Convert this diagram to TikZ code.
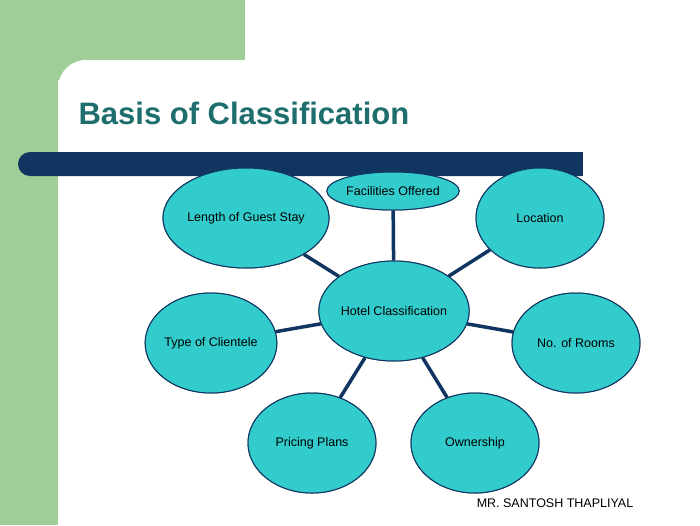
\documentclass[tikz,border=0pt]{standalone}
\usepackage{fontspec}
\setmainfont{Liberation Sans}
\usetikzlibrary{shapes.geometric}
\definecolor{grn}{HTML}{9FCF97}
\definecolor{navy}{HTML}{0F3560}
\definecolor{cyanf}{HTML}{33CCCC}
\definecolor{ttl}{HTML}{1E6E6E}
\tikzset{
  ell/.style={ellipse,draw=navy,line width=1pt,fill=cyanf,inner sep=0pt,font=\fontsize{12.5}{14}\selectfont},
  link/.style={draw=navy,line width=3.5pt}
}
\begin{document}
\begin{tikzpicture}[x=1pt,y=-1pt]
\useasboundingbox (0,0) rectangle (700,525);
\fill[white] (0,0) rectangle (700,525);
\fill[grn] (0,0) rectangle (245,80);
\fill[grn] (0,0) rectangle (58,525);
\fill[white,rounded corners=28pt] (58,60) rectangle (760,600);
\node[font=\bfseries\fontsize{31}{36}\selectfont,text=ttl,anchor=west] (title) at (75,113) {Basis of Classification};
\fill[navy,rounded corners=12pt] (18,152) rectangle (600,176);
\fill[navy] (560,152) rectangle (583,176);
\fill[white] (583,150) rectangle (610,178);
\node[ell,minimum width=124pt,minimum height=100pt] (c) at (394,311) {Hotel Classification};
\node[ell,minimum width=124pt,minimum height=38pt] (f) at (393,191) {Facilities Offered};
\node[ell,minimum width=128pt,minimum height=100pt] (l) at (246,218) {Length of Guest Stay};
\node[ell,minimum width=128pt,minimum height=100pt] (lo) at (540,218) {Location};
\node[ell,minimum width=128pt,minimum height=100pt] (t) at (211,343) {Type of Clientele};
\node[ell,minimum width=128pt,minimum height=100pt] (n) at (576,343) {No. of Rooms};
\node[ell,minimum width=128pt,minimum height=100pt] (p) at (312,443) {Pricing Plans};
\node[ell,minimum width=128pt,minimum height=100pt] (o) at (475,443) {Ownership};
\begin{scope}[on background layer/.style={}]
\end{scope}
\foreach \x in {f,l,lo,t,n,p,o}{\draw[link] (c) -- (\x);}
\node[ell,minimum width=124pt,minimum height=100pt] at (c) {Hotel Classification};
\node[ell,minimum width=124pt,minimum height=38pt] at (f) {Facilities Offered};
\node[ell,minimum width=128pt,minimum height=100pt] at (l) {Length of Guest Stay};
\node[ell,minimum width=128pt,minimum height=100pt] at (lo) {Location};
\node[ell,minimum width=128pt,minimum height=100pt] at (t) {Type of Clientele};
\node[ell,minimum width=128pt,minimum height=100pt] at (n) {No. of Rooms};
\node[ell,minimum width=128pt,minimum height=100pt] at (p) {Pricing Plans};
\node[ell,minimum width=128pt,minimum height=100pt] at (o) {Ownership};
\node[font=\fontsize{12.5}{14}\selectfont] (auth) at (555,503) {MR. SANTOSH THAPLIYAL};
\end{tikzpicture}
\end{document}
